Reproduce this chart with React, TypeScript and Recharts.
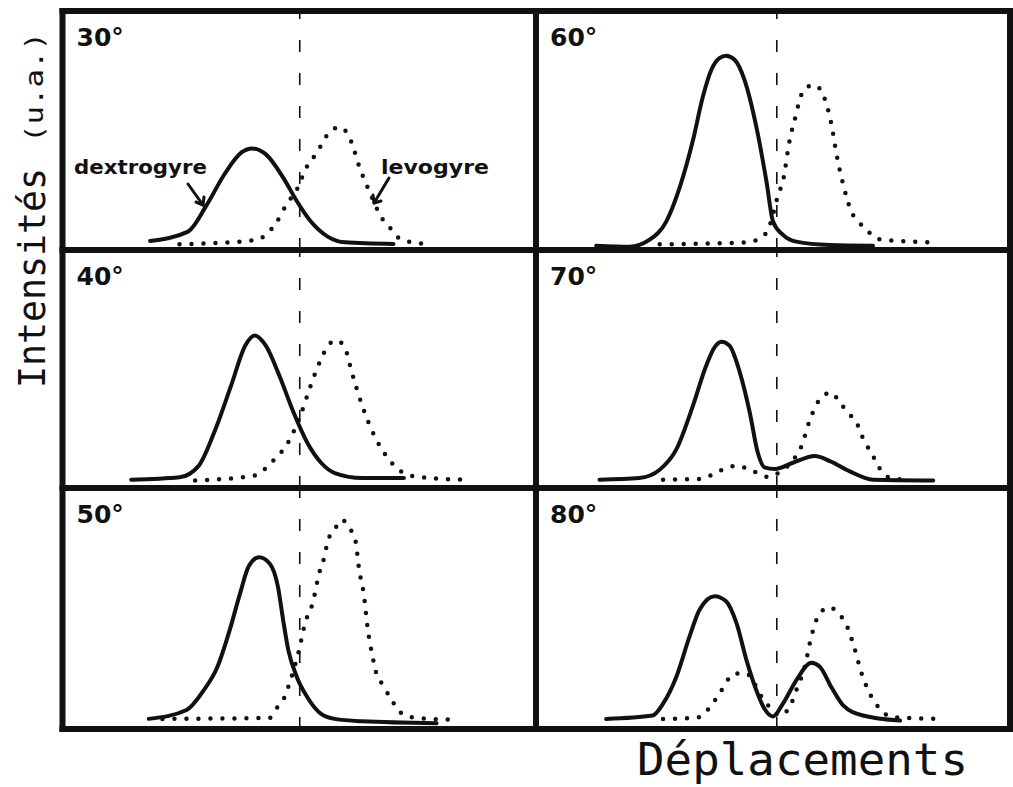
import React from 'react';
import { LineChart, Line, XAxis, YAxis, ReferenceLine } from 'recharts';

type Pt = [number, number];

// Panel angle labels
const angles = ['30°', '40°', '50°', '60°', '70°', '80°'];

// Intensity (0-100 of panel height) vs displacement (0 = dashed line)
const dextro30: Pt[] = [[-31.6, 3.8], [-23.6, 7.7], [-19.6, 19.0], [-15.9, 31.7], [-12.3, 40.8], [-10.1, 42.5], [-7.2, 40.1], [-3.5, 30.3], [-0.6, 20.4], [2.3, 12.0], [5.9, 5.6], [9.6, 3.2], [19.8, 2.5]];
const levo30: Pt[] = [[-25.4, 2.4], [-9.4, 4.1], [-7.2, 6.3], [-5.0, 11.3], [-2.8, 19.0], [-0.6, 25.4], [1.6, 35.2], [3.4, 40.1], [6.3, 49.3], [8.5, 51.4], [10.3, 47.9], [12.9, 33.1], [15.0, 23.2], [16.9, 14.8], [19.8, 7.7], [21.2, 4.6], [27.1, 2.4]];

const dextro40: Pt[] = [[-35.6, 3.5], [-25.4, 4.5], [-21.4, 9.2], [-18.1, 23.2], [-14.5, 43.0], [-11.5, 59.9], [-9.5, 64.1], [-7.2, 59.9], [-4.3, 47.2], [-1.3, 31.7], [1.6, 19.0], [4.5, 10.6], [7.4, 6.3], [13.2, 4.2], [22.0, 4.2]];
const levo40: Pt[] = [[-22.1, 3.2], [-9.7, 5.2], [-5.7, 11.3], [-2.1, 20.4], [0.1, 30.3], [2.3, 43.0], [4.5, 54.2], [6.3, 60.6], [7.8, 62.0], [9.6, 58.5], [11.0, 48.6], [13.2, 34.5], [15.8, 21.8], [18.3, 13.4], [20.9, 7.7], [24.1, 4.9], [34.3, 3.5]];

const dextro50: Pt[] = [[-31.9, 4.2], [-23.9, 7.9], [-20.3, 16.0], [-17.4, 25.7], [-14.8, 41.0], [-12.6, 56.3], [-10.8, 67.4], [-8.6, 71.3], [-6.4, 68.8], [-4.6, 59.0], [-3.5, 45.1], [-2.4, 32.6], [-0.6, 21.5], [1.6, 13.2], [4.5, 6.3], [7.4, 4.2], [13.2, 3.2], [28.9, 2.4]];
const levo50: Pt[] = [[-29.0, 4.2], [-6.4, 4.6], [-5.0, 8.3], [-3.3, 12.8], [-2.1, 19.4], [-0.3, 31.5], [1.2, 44.4], [2.7, 52.1], [4.1, 64.6], [5.2, 71.5], [5.9, 77.8], [7.4, 82.9], [8.8, 86.8], [10.7, 82.9], [11.8, 77.8], [12.5, 66.7], [13.6, 54.9], [14.3, 42.4], [15.4, 29.9], [16.1, 23.6], [17.6, 18.1], [19.4, 12.1], [20.9, 7.6], [23.4, 4.9], [32.9, 3.8]];

const dextro60: Pt[] = [[-38.1, 1.8], [-31.1, 1.4], [-26.9, 4.2], [-23.3, 12.0], [-20.5, 26.1], [-17.7, 45.8], [-15.6, 64.1], [-13.8, 75.4], [-12.1, 80.3], [-10.7, 81.3], [-8.9, 79.6], [-6.8, 71.1], [-4.3, 51.4], [-2.2, 28.9], [-0.8, 12.0], [1.3, 6.3], [4.1, 3.5], [11.2, 2.1], [20.3, 1.8]];
const levo60: Pt[] = [[-24.7, 2.4], [-6.4, 3.2], [-2.9, 5.6], [-1.2, 12.0], [0.3, 23.2], [1.3, 28.9], [2.7, 45.8], [4.1, 57.0], [4.8, 62.7], [6.2, 68.0], [8.0, 69.0], [9.8, 64.8], [11.5, 52.8], [12.6, 40.1], [14.0, 27.5], [15.7, 16.2], [17.5, 11.3], [19.3, 7.7], [21.4, 4.6], [32.3, 3.2]];

const dextro70: Pt[] = [[-37.4, 3.5], [-29.0, 4.2], [-24.7, 7.7], [-21.2, 16.2], [-17.7, 34.5], [-14.9, 51.4], [-13.1, 59.2], [-11.7, 61.5], [-10.0, 59.9], [-7.8, 48.6], [-5.7, 31.7], [-4.0, 14.8], [-2.6, 8.7], [-0.4, 8.0], [3.4, 10.6], [8.0, 13.4], [11.2, 11.3], [15.4, 7.0], [20.3, 3.5], [33.0, 3.2]];
const levo70: Pt[] = [[-24.0, 3.5], [-16.3, 3.8], [-11.7, 7.5], [-8.5, 9.4], [-5.7, 7.7], [-1.5, 4.6], [0.3, 6.3], [3.8, 12.7], [5.2, 17.6], [6.9, 28.2], [9.1, 37.3], [11.5, 40.1], [13.3, 35.9], [15.0, 31.7], [16.8, 27.5], [18.6, 19.0], [20.0, 14.8], [21.0, 10.6], [23.5, 4.6], [26.7, 3.5]];

const dextro80: Pt[] = [[-36.0, 4.2], [-26.2, 5.6], [-24.0, 10.5], [-21.2, 21.6], [-18.4, 38.4], [-16.3, 49.5], [-13.1, 55.1], [-10.7, 53.0], [-8.5, 43.9], [-6.4, 28.6], [-4.3, 16.0], [-2.6, 8.4], [-0.8, 5.2], [1.3, 10.5], [4.1, 20.2], [7.3, 27.5], [9.1, 25.8], [11.5, 17.4], [14.0, 9.8], [18.2, 5.6], [26.0, 3.5]];
const levo80: Pt[] = [[-24.0, 4.2], [-17.0, 4.6], [-13.8, 9.8], [-11.7, 16.0], [-8.9, 23.0], [-6.4, 23.0], [-4.7, 18.8], [-3.6, 14.6], [-1.5, 9.1], [0.6, 5.6], [2.7, 9.1], [4.1, 16.0], [5.9, 25.8], [7.3, 38.4], [9.1, 48.1], [11.2, 50.5], [12.9, 48.1], [14.7, 43.2], [16.5, 32.8], [17.9, 23.0], [19.3, 16.0], [21.7, 8.4], [24.6, 4.9], [35.1, 4.2]];

const axisTitleY = 'Intensités';
const axisUnitY = '(u.a.)';
const axisTitleX = 'Déplacements';
const seriesNames = ['dextrogyre', 'levogyre'];

const rows = (pts: Pt[]) => pts.map(([x, y]) => ({ x, y }));

const colX = [62.5, 536, 1010];
const rowY = [11, 250, 488, 729];
const colDomains: [number, number][] = [[-50, 50], [-50.8, 49.2]];

const panels = [
  { label: angles[0], dex: dextro30, levo: levo30, col: 0, row: 0 },
  { label: angles[1], dex: dextro40, levo: levo40, col: 0, row: 1 },
  { label: angles[2], dex: dextro50, levo: levo50, col: 0, row: 2 },
  { label: angles[3], dex: dextro60, levo: levo60, col: 1, row: 0 },
  { label: angles[4], dex: dextro70, levo: levo70, col: 1, row: 1 },
  { label: angles[5], dex: dextro80, levo: levo80, col: 1, row: 2 },
];

const INK = '#111';
const SANS = "'DejaVu Sans', 'Noto Sans', sans-serif";
const MONO = "'DejaVu Sans Mono', monospace";

function Panel({ p }: { p: (typeof panels)[number] }) {
  const left = colX[p.col];
  const top = rowY[p.row];
  const w = colX[p.col + 1] - left;
  const h = rowY[p.row + 1] - top;
  return (
    <div style={{ position: 'absolute', left, top, width: w, height: h }}>
      <LineChart width={w} height={h} margin={{ top: 0, right: 0, bottom: 0, left: 0 }}>
        <XAxis type="number" dataKey="x" domain={colDomains[p.col]} hide allowDataOverflow />
        <YAxis type="number" domain={[0, 100]} hide allowDataOverflow />
        <ReferenceLine x={0} stroke={INK} strokeWidth={1.6} strokeDasharray="12 21" />
        <Line
          data={rows(p.dex)}
          dataKey="y"
          type="monotone"
          stroke={INK}
          strokeWidth={4}
          strokeLinecap="round"
          dot={false}
          isAnimationActive={false}
          name={seriesNames[0]}
        />
        <Line
          data={rows(p.levo)}
          dataKey="y"
          type="monotone"
          stroke={INK}
          strokeWidth={4.5}
          strokeDasharray="0 12"
          strokeLinecap="round"
          dot={false}
          isAnimationActive={false}
          name={seriesNames[1]}
        />
      </LineChart>
    </div>
  );
}

export default function App() {
  const fw = 6;
  return (
    <div style={{ position: 'absolute', left: 0, top: 0, width: 1013, height: 787, background: '#fff', overflow: 'hidden' }}>
      {panels.map((p, i) => (
        <Panel key={i} p={p} />
      ))}
      <svg width={1013} height={787} style={{ position: 'absolute', left: 0, top: 0, pointerEvents: 'none' }}>
        {/* frame */}
        {rowY.map((y, i) => (
          <line key={'h' + i} x1={colX[0] - fw / 2} x2={colX[2] + fw / 2} y1={y} y2={y} stroke={INK} strokeWidth={fw} />
        ))}
        {colX.map((x, i) => (
          <line key={'v' + i} x1={x} x2={x} y1={rowY[0] - fw / 2} y2={rowY[3] + fw / 2} stroke={INK} strokeWidth={fw} />
        ))}
        {/* panel labels */}
        {panels.map((p, i) => (
          <text
            key={'l' + i}
            x={colX[p.col] + 14}
            y={rowY[p.row] + 35}
            fontFamily={SANS}
            fontWeight="bold"
            fontSize={25}
            fill={INK}
          >
            {p.label}
          </text>
        ))}
        {/* series annotations */}
        <text x={74} y={174} fontFamily={SANS} fontWeight="bold" fontSize={19} fill={INK} textLength={133} lengthAdjust="spacingAndGlyphs">
          {seriesNames[0]}
        </text>
        <polyline points="188,184 203,205" fill="none" stroke={INK} strokeWidth={3} strokeLinecap="round" />
        <polyline points="196,202 203,205 204,197" fill="none" stroke={INK} strokeWidth={3} strokeLinecap="round" strokeLinejoin="round" />
        <text x={381} y={174} fontFamily={SANS} fontWeight="bold" fontSize={19} fill={INK} textLength={108} lengthAdjust="spacingAndGlyphs">
          {seriesNames[1]}
        </text>
        <polyline points="389,178 374,203" fill="none" stroke={INK} strokeWidth={3} strokeLinecap="round" />
        <polyline points="373,195 374,203 381,201" fill="none" stroke={INK} strokeWidth={3} strokeLinecap="round" strokeLinejoin="round" />
        {/* axis titles */}
        <text
          transform="translate(45,388) rotate(-90)"
          fontFamily={MONO}
          fontSize={38}
          fill={INK}
          textLength={220}
          lengthAdjust="spacingAndGlyphs"
        >
          {axisTitleY}
        </text>
        <text
          transform="translate(43,143) rotate(-90)"
          fontFamily={MONO}
          fontSize={24}
          fill={INK}
          textLength={111}
          lengthAdjust="spacingAndGlyphs"
        >
          {axisUnitY}
        </text>
        <text x={637} y={775} fontFamily={MONO} fontSize={44} fill={INK} textLength={331} lengthAdjust="spacingAndGlyphs">
          {axisTitleX}
        </text>
      </svg>
    </div>
  );
}
